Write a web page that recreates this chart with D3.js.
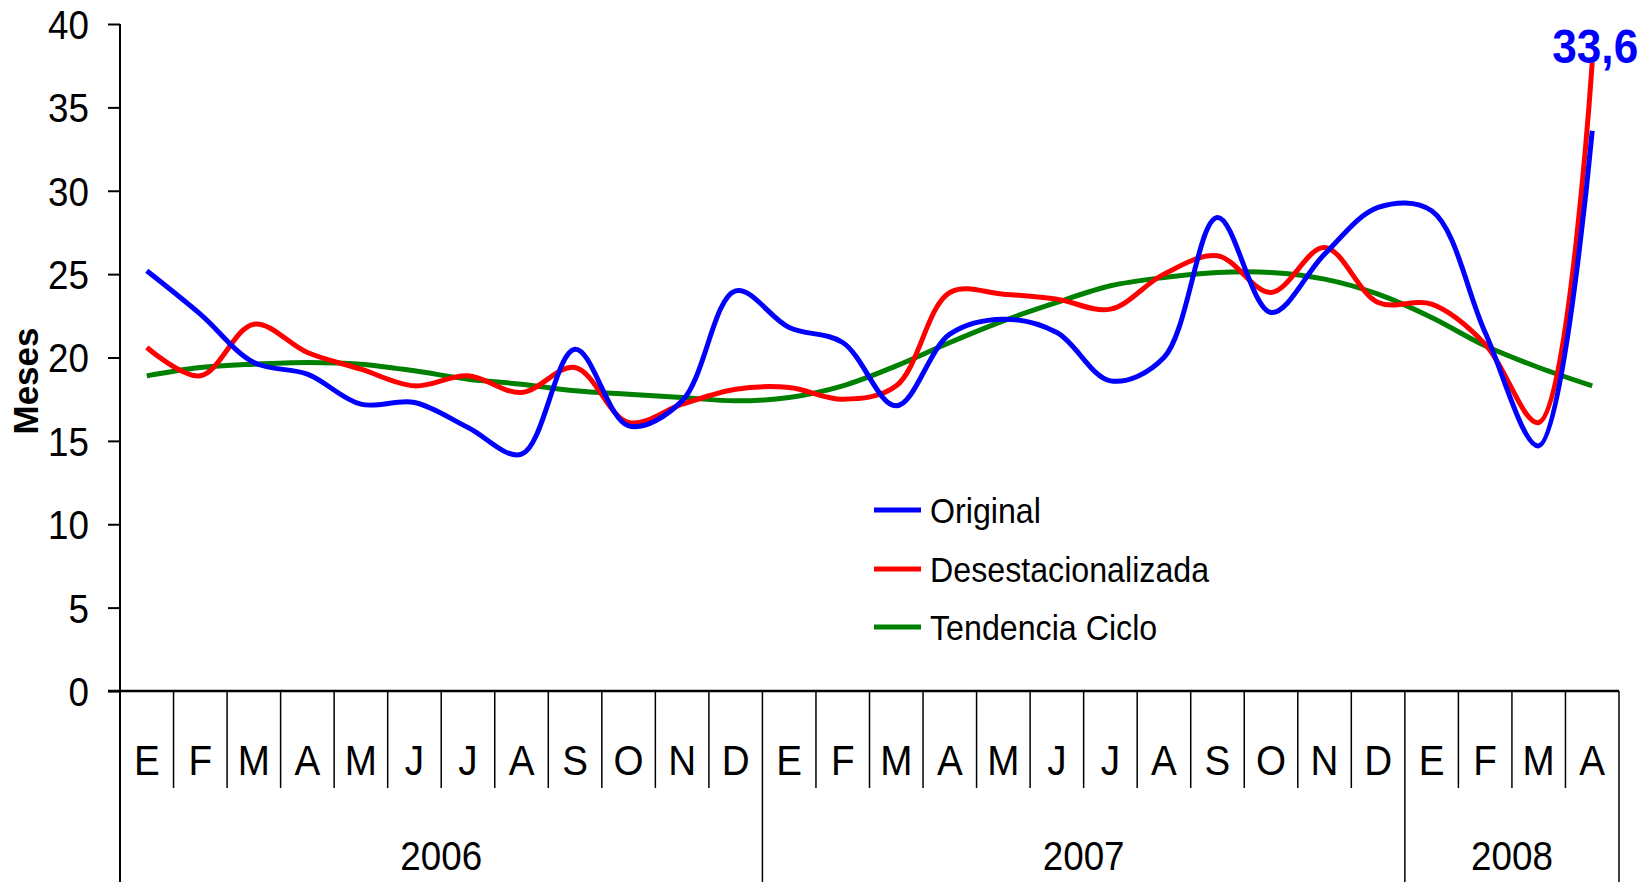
<!DOCTYPE html>
<meta charset="utf-8">
<html>
  <style>
    body, html{ margin: 0; background: #fff;}
    svg text{ font-family: "Liberation Sans", Arial, sans-serif; fill: #000; }
    .serie{ fill: none; stroke-width: 5; stroke-linejoin: round; }
    .axis line, .axis path{ stroke: #000; }
  </style>
  <body>
    <svg></svg>
    <script src="https://cdn.jsdelivr.net/npm/d3@7"></script>
    <script>
var months = ['E','F','M','A','M','J','J','A','S','O','N','D',
              'E','F','M','A','M','J','J','A','S','O','N','D',
              'E','F','M','A']
var years = [{label: '2006', n: 12}, {label: '2007', n: 12}, {label: '2008', n: 4}]
var yTicks = [0, 5, 10, 15, 20, 25, 30, 35, 40]

var original = [25.2, 22.6, 19.7, 19.0, 17.2, 17.3, 15.8, 14.2, 20.5, 15.9, 17.4, 24.0,
                21.8, 20.9, 17.1, 21.4, 22.3, 21.5, 18.6, 20.0, 28.4, 22.7, 26.2, 29.0,
                28.8, 21.5, 14.7, 33.6]
var desest = [20.6, 18.9, 22.0, 20.3, 19.3, 18.3, 18.9, 17.9, 19.4, 16.1, 17.2, 18.1,
              18.2, 17.5, 18.3, 23.9, 23.8, 23.5, 22.9, 25.0, 26.1, 23.9, 26.6, 23.3,
              23.2, 20.8, 16.1, 37.7]
var tendencia = [18.9, 19.4, 19.6, 19.7, 19.6, 19.2, 18.7, 18.4, 18.0, 17.8, 17.6, 17.4,
                 17.6, 18.3, 19.5, 20.9, 22.2, 23.3, 24.3, 24.8, 25.1, 25.1, 24.7, 23.8,
                 22.4, 20.7, 19.4, 18.3]

var series = [
  {name: 'Original', values: original, color: '#0000ff'},
  {name: 'Desestacionalizada', values: desest, color: '#ff0000'},
  {name: 'Tendencia Ciclo', values: tendencia, color: '#008000'}
]

var w = 1652, h = 882
  , plotLeft = 120, plotRight = 1619, plotTop = 24, zeroY = 691
  , sx = 0.92
  , svg = d3.select('svg').attr('width', w).attr('height', h)

var x = d3.scaleBand().domain(d3.range(months.length)).range([plotLeft, plotRight])
  , y = d3.scaleLinear().domain([0, 40]).range([zeroY, plotTop])

// y axis
var yAxis = svg.append('g').attr('class', 'axis')
  .attr('transform', 'translate(' + plotLeft + ',0)')
  .call(d3.axisLeft(y).tickValues(yTicks).tickSize(12).tickPadding(0))
yAxis.select('.domain').remove()
yAxis.selectAll('line').attr('stroke-width', 2)
yAxis.selectAll('text')
  .attr('x', null).attr('dy', '0.36em')
  .attr('transform', 'translate(-31,0) scale(' + sx + ',1)')
  .style('font-size', '40px')

svg.append('line').attr('class', 'axis')
  .attr('x1', plotLeft).attr('x2', plotLeft).attr('y1', plotTop).attr('y2', h)
  .attr('stroke', '#000').attr('stroke-width', 2)
svg.append('line')
  .attr('x1', plotLeft - 12).attr('x2', plotRight).attr('y1', zeroY).attr('y2', zeroY)
  .attr('stroke', '#000').attr('stroke-width', 2.5)

// category separators
var yearStarts = [0], acc = 0
years.forEach(function(d){ acc += d.n; yearStarts.push(acc) })
d3.range(1, months.length + 1).forEach(function(i){
  var isYear = yearStarts.indexOf(i) >= 0
  var xb = i < months.length ? x(i) : plotRight
  svg.append('line')
    .attr('x1', xb).attr('x2', xb).attr('y1', zeroY).attr('y2', isYear ? h : 788)
    .attr('stroke', '#000').attr('stroke-width', 1.5)
})

svg.selectAll('.month').data(months).enter().append('text')
  .attr('class', 'month')
  .attr('text-anchor', 'middle')
  .attr('transform', function(d, i){ return 'translate(' + (x(i) + x.bandwidth() / 2) + ',775) scale(' + sx + ',1)' })
  .style('font-size', '42px')
  .text(function(d){ return d })

svg.selectAll('.year').data(years).enter().append('text')
  .attr('class', 'year')
  .attr('text-anchor', 'middle')
  .attr('transform', function(d, i){
    var a = yearStarts[i], b = yearStarts[i + 1]
    var xa = x(a), xb = b < months.length ? x(b) : plotRight
    return 'translate(' + ((xa + xb) / 2) + ',870) scale(' + sx + ',1)'
  })
  .style('font-size', '40px')
  .text(function(d){ return d.label })

// axis title
svg.append('text')
  .attr('transform', 'translate(38,381) rotate(-90)')
  .attr('text-anchor', 'middle')
  .style('font-size', '35px').style('font-weight', 'bold')
  .text('Meses')

// lines
var line = d3.line()
  .x(function(d, i){ return x(i) + x.bandwidth() / 2 })
  .y(function(d){ return y(d) })
  .curve(d3.curveCatmullRom.alpha(0.5))

svg.selectAll('.serie').data(series.slice().reverse()).enter().append('path')
  .attr('class', 'serie')
  .attr('stroke', function(d){ return d.color })
  .attr('d', function(d){ return line(d.values) })

// data label
var last = original.length - 1
svg.append('text')
  .attr('text-anchor', 'middle')
  .attr('transform', 'translate(' + (x(last) + x.bandwidth() / 2 + 3) + ',' + (y(original[last]) - 68) + ') scale(' + sx + ',1)')
  .style('font-size', '48px').style('font-weight', 'bold').style('fill', '#0000ff')
  .text(String(original[last]).replace('.', ','))

// legend
var legend = svg.selectAll('.legend').data(series).enter().append('g')
  .attr('class', 'legend')
  .attr('transform', function(d, i){ return 'translate(874,' + [510, 569, 627][i] + ')' })
legend.append('line')
  .attr('x1', 0).attr('x2', 47)
  .attr('stroke', function(d){ return d.color }).attr('stroke-width', 5)
legend.append('text')
  .attr('dy', '0.36em')
  .attr('transform', 'translate(56,0) scale(' + sx + ',1)')
  .style('font-size', '35px')
  .text(function(d){ return d.name })
    </script>
  </body>
</html>
